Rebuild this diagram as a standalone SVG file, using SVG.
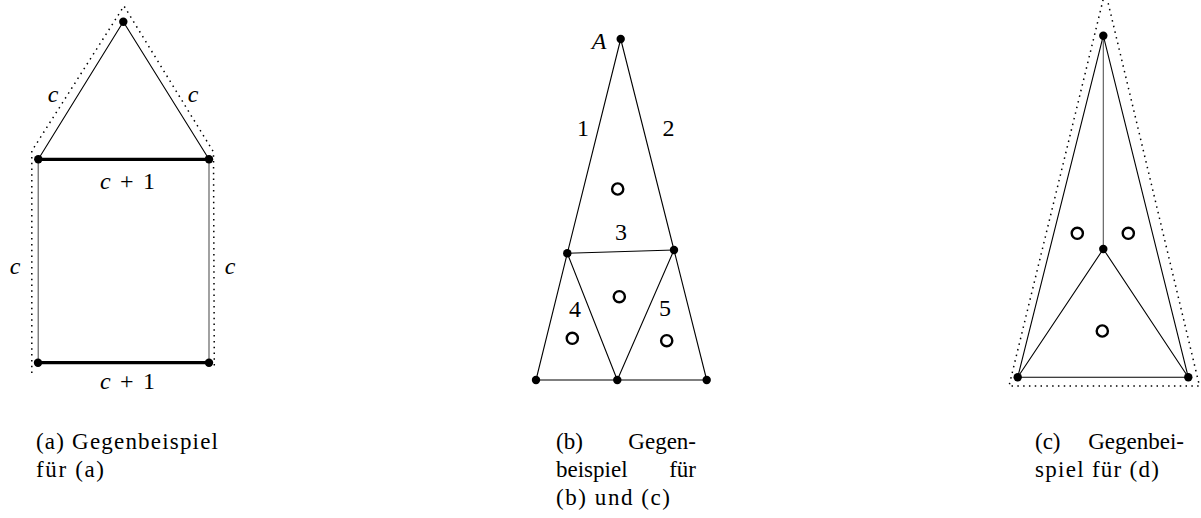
<svg xmlns="http://www.w3.org/2000/svg" width="1201" height="518" viewBox="0 0 1201 518">
<style>
.e{stroke:#000;stroke-width:1.1;fill:none;stroke-linecap:round}
.g{stroke:#555;stroke-width:1.1;fill:none}
.t{stroke:#000;stroke-width:3.2;fill:none}
.d{stroke:#000;stroke-width:1.5;fill:none;stroke-dasharray:1.5 4.3}
.v{fill:#000}
.o{fill:none;stroke:#000;stroke-width:2.4}
text{font-family:'Liberation Serif',serif !important}
</style>
<g id="connectors">
  <line class="e" x1="123.3" y1="21.7" x2="38.3" y2="159.3"/>
  <line class="e" x1="123.3" y1="21.7" x2="209" y2="159.3"/>
  <line class="t" x1="38.3" y1="159.3" x2="209" y2="159.3"/>
  <line class="t" x1="38" y1="362.7" x2="209" y2="362.7"/>
  <line class="g" x1="38.2" y1="159.3" x2="38.2" y2="362.7"/>
  <line class="g" x1="209" y1="159.3" x2="209" y2="362.7"/>
  <polyline class="d" points="31.8,373 31.8,151 124,6 213.5,152 214.3,368"/>
  <line class="e" x1="620.7" y1="39" x2="567.3" y2="253.3"/>
  <line class="e" x1="620.7" y1="39" x2="674" y2="250"/>
  <line class="e" x1="567.3" y1="253.3" x2="674" y2="250"/>
  <line class="e" x1="567.3" y1="253.3" x2="536" y2="380"/>
  <line class="e" x1="567.3" y1="253.3" x2="617.3" y2="380"/>
  <line class="e" x1="674" y1="250" x2="617.3" y2="380"/>
  <line class="e" x1="674" y1="250" x2="706.7" y2="380"/>
  <line class="e" x1="536" y1="380" x2="706.7" y2="380"/>
  <line class="e" x1="1103.3" y1="35.7" x2="1017.7" y2="377.3"/>
  <line class="e" x1="1103.3" y1="35.7" x2="1188.3" y2="377.3"/>
  <line class="g" x1="1103.3" y1="35.7" x2="1103.3" y2="249"/>
  <line class="e" x1="1103.3" y1="249" x2="1017.7" y2="377.3"/>
  <line class="e" x1="1103.3" y1="249" x2="1188.3" y2="377.3"/>
  <line class="e" x1="1017.7" y1="377.3" x2="1188.3" y2="377.3"/>
  <polyline class="d" points="1104.5,-6 1009,386 1199.5,386 1106,-6"/>
</g>
<g id="panel-a">
  <circle class="v" cx="123.3" cy="21.7" r="4.2"/>
  <circle class="v" cx="38.3" cy="159.3" r="4.2"/>
  <circle class="v" cx="209" cy="159.3" r="4.2"/>
  <circle class="v" cx="38" cy="362.7" r="4.2"/>
  <circle class="v" cx="209" cy="362.7" r="4.2"/>
  <text x="53" y="102" font-family="Liberation Serif" font-size="24" font-style="italic" text-anchor="middle" style="font-family:'Liberation Serif',serif !important">c</text>
  <text x="193" y="102" font-family="Liberation Serif" font-size="24" font-style="italic" text-anchor="middle" style="font-family:'Liberation Serif',serif !important">c</text>
  <text x="100" y="189" font-family="Liberation Serif" font-size="24" textLength="55" lengthAdjust="spacing" style="font-family:'Liberation Serif',serif !important"><tspan font-style="italic">c</tspan> + 1</text>
  <text x="100" y="389" font-family="Liberation Serif" font-size="24" textLength="55" lengthAdjust="spacing" style="font-family:'Liberation Serif',serif !important"><tspan font-style="italic">c</tspan> + 1</text>
  <text x="15" y="274" font-family="Liberation Serif" font-size="24" font-style="italic" text-anchor="middle" style="font-family:'Liberation Serif',serif !important">c</text>
  <text x="230" y="274" font-family="Liberation Serif" font-size="24" font-style="italic" text-anchor="middle" style="font-family:'Liberation Serif',serif !important">c</text>
</g>
<g id="panel-b">
  <circle class="v" cx="620.7" cy="39" r="4.2"/>
  <circle class="v" cx="567.3" cy="253.3" r="4.2"/>
  <circle class="v" cx="674" cy="250" r="4.2"/>
  <circle class="v" cx="536" cy="380" r="4.2"/>
  <circle class="v" cx="617.3" cy="380" r="4.2"/>
  <circle class="v" cx="706.7" cy="380" r="4.2"/>
  <circle class="o" cx="617.7" cy="189" r="5.6"/>
  <circle class="o" cx="619.3" cy="296.7" r="5.6"/>
  <circle class="o" cx="572.3" cy="338.3" r="5.6"/>
  <circle class="o" cx="666.7" cy="340.7" r="5.6"/>
  <text x="599" y="49" font-family="Liberation Serif" font-size="24" font-style="italic" text-anchor="middle" style="font-family:'Liberation Serif',serif !important">A</text>
  <text x="583" y="136" font-family="Liberation Serif" font-size="24" text-anchor="middle" style="font-family:'Liberation Serif',serif !important">1</text>
  <text x="668.5" y="136" font-family="Liberation Serif" font-size="24" text-anchor="middle" style="font-family:'Liberation Serif',serif !important">2</text>
  <text x="621" y="240" font-family="Liberation Serif" font-size="24" text-anchor="middle" style="font-family:'Liberation Serif',serif !important">3</text>
  <text x="575" y="317" font-family="Liberation Serif" font-size="24" text-anchor="middle" style="font-family:'Liberation Serif',serif !important">4</text>
  <text x="665" y="316" font-family="Liberation Serif" font-size="24" text-anchor="middle" style="font-family:'Liberation Serif',serif !important">5</text>
</g>
<g id="panel-c">
  <circle class="v" cx="1103.3" cy="35.7" r="4.2"/>
  <circle class="v" cx="1103.3" cy="249" r="4.2"/>
  <circle class="v" cx="1017.7" cy="377.3" r="4.2"/>
  <circle class="v" cx="1188.3" cy="377.3" r="4.2"/>
  <circle class="o" cx="1077.3" cy="233.3" r="5.6"/>
  <circle class="o" cx="1128.3" cy="233.3" r="5.6"/>
  <circle class="o" cx="1102.3" cy="331" r="5.6"/>
</g>
<g id="captions">
  <text x="36" y="449" font-family="Liberation Serif" font-size="23" textLength="182" lengthAdjust="spacing" style="font-family:'Liberation Serif',serif !important">(a) Gegenbeispiel</text>
  <text x="36" y="477" font-family="Liberation Serif" font-size="23" textLength="68" lengthAdjust="spacing" style="font-family:'Liberation Serif',serif !important">für (a)</text>
  <text x="556" y="449" font-family="Liberation Serif" font-size="23" style="font-family:'Liberation Serif',serif !important">(b)</text>
  <text x="696" y="449" font-family="Liberation Serif" font-size="23" text-anchor="end" style="font-family:'Liberation Serif',serif !important">Gegen-</text>
  <text x="556" y="477" font-family="Liberation Serif" font-size="23" style="font-family:'Liberation Serif',serif !important">beispiel</text>
  <text x="696" y="477" font-family="Liberation Serif" font-size="23" text-anchor="end" style="font-family:'Liberation Serif',serif !important">für</text>
  <text x="556" y="505" font-family="Liberation Serif" font-size="23" textLength="114" lengthAdjust="spacing" style="font-family:'Liberation Serif',serif !important">(b) und (c)</text>
  <text x="1035" y="449" font-family="Liberation Serif" font-size="23" style="font-family:'Liberation Serif',serif !important">(c)</text>
  <text x="1184" y="449" font-family="Liberation Serif" font-size="23" text-anchor="end" style="font-family:'Liberation Serif',serif !important">Gegenbei-</text>
  <text x="1035" y="477" font-family="Liberation Serif" font-size="23" textLength="124" lengthAdjust="spacing" style="font-family:'Liberation Serif',serif !important">spiel für (d)</text>
</g>
</svg>
